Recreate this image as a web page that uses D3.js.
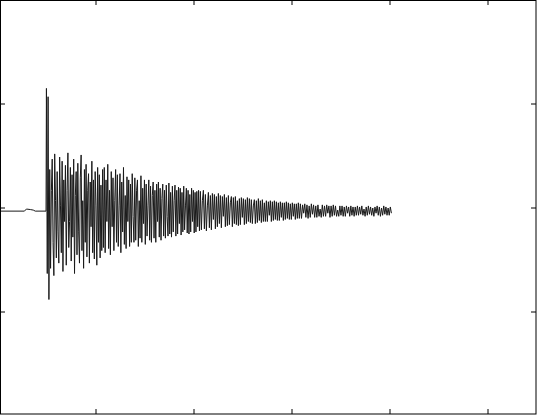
<!DOCTYPE html>
<html>
<head>
<meta charset="utf-8">
<script src="https://cdn.jsdelivr.net/npm/d3@7"></script>
<style>
  body { margin: 0; background: #fff; }
  svg { display: block; }
</style>
</head>
<body>
<svg id="chart" width="537" height="415"></svg>
<script>
// quiet part before the onset: [time, value]
const preEvent = [[0, -0.03], [0.27, -0.03], [0.29, -0.01], [0.33, -0.015], [0.36, -0.02], [0.38, -0.03], [0.49, -0.03]]

// oscillation
const seg1 = [1.18,-0.6,1.1,-0.85,0.4,-0.55,0.2,0.5,-0.3,-0.62,0.55,0.1,-0.45,0.38,-0.2,-0.5,0.52,0.05,-0.4,0.48,-0.58,0.3,-0.1,0.44,-0.52,0.2,0.56,-0.35,-0.1,0.42,-0.48,0.35,-0.25,0.5,-0.6,0.15,0.38,-0.42,0.46,-0.2,-0.5,0.32,0.54,-0.38,0.1,-0.55,0.4,-0.3,0.45,-0.44,0.2,0.36,-0.5,0.28,-0.15,0.48,-0.4,0.3,-0.46,0.38,0.05,-0.52,0.42,-0.3,0.35,-0.45,0.25,-0.38,0.4,-0.35]
const seg2 = [0.42,-0.4,0.3,-0.1,0.45,-0.36,0.2,-0.42,0.38,-0.15,0.32,-0.38,0.1,0.4,-0.3,0.35,-0.34,0.05,0.36,-0.4,0.28,-0.2,0.42,-0.32,0.15,-0.36,0.33,-0.1,0.3,-0.34,0.26,-0.3,0.36,-0.05,-0.3,0.32,-0.28,0.2,0.3,-0.34,0.1,-0.26,0.34,-0.3,0.22,-0.12,0.3,-0.32,0.26,-0.24,0.05,0.3,-0.28,0.24,-0.3,0.15,0.28,-0.26,0.2,-0.3,0.26,-0.1,0.28,-0.25,0.22,-0.28,0.12,0.26,-0.24,0.2,-0.26,0.25,-0.05,-0.24,0.27,-0.22,0.18,-0.25,0.24,-0.2,0.1,0.25,-0.24,0.2,-0.22,0.23,-0.12,0.22,-0.23,0.18,-0.2,0.24,-0.18,0.05,0.22,-0.21,0.2,-0.22,0.16,-0.2,0.22,-0.1,0.2,-0.21,0.18,-0.2,0.19,-0.15,0.2,-0.19]
const seg3 = [0.19,-0.18,0.1,0.2,-0.17,0.16,-0.19,0.05,0.18,-0.16,0.15,-0.18,0.17,-0.08,0.16,-0.17,0.14,-0.15,0.17,-0.12,0.15,-0.16,0.14,-0.05,0.16,-0.15,0.13,-0.14,0.15,-0.13,0.08,0.14,-0.15,0.13,-0.12,0.14,-0.13,0.1,-0.14,0.12,-0.13,0.13,-0.06,0.12,-0.13,0.11,-0.12,0.13,-0.1,0.12,-0.11,0.11,-0.12,0.05,0.11,-0.12,0.1,-0.11,0.12,-0.09,0.1,-0.11,0.11,-0.1,0.08,-0.1,0.1,-0.1,0.09,-0.04,0.1,-0.1,0.09,-0.09,0.1,-0.08,0.09,-0.09,0.08,-0.09,0.09,-0.06,0.08,-0.09,0.08,-0.08,0.09,-0.07,0.08,-0.08,0.07,-0.08,0.08,-0.05,0.07,-0.08,0.07,-0.07,0.08,-0.07]
const seg4 = [0.07,-0.07,0.06,-0.02,0.07,-0.06,0.06,-0.07,0.05,-0.06,0.07,-0.03,0.06,-0.06,0.05,-0.06,0.06,-0.05,0.02,-0.06,0.06,-0.05,0.05,-0.05,0.06,-0.02,0.05,-0.06,0.05,-0.05,0.06,-0.04,0.05,-0.05,0.01,-0.05,0.05,-0.04,0.05,-0.05,0.04,-0.05,0.05,-0.02,0.04,-0.05,0.05,-0.04,0.04,-0.05,0.04,-0.04,0.05,-0.04,0.04,-0.03,0.05,-0.04,0.02,-0.05,0.04,-0.04,0.05,-0.03,0.04,-0.04,0.03,-0.05,0.04,-0.02,0.05,-0.04,0.04,-0.05,0.03,-0.04,0.05,-0.03,0.04,-0.04,0.03,-0.04,0.04,-0.02]
// time span of each segment
const segTimes = [[0.49, 1.08], [1.08, 2.06], [2.06, 3.08], [3.08, 4.02]]
const offset = -0.03

const xTicks = [1, 2, 3, 4, 5]
const yTicks = [-1, 0, 1]

// -----------------------------------------------------------------------------

const svg = d3.select('#chart')
const x = d3.scaleLinear().domain([0, 5.5]).range([-2, 537])
const y = d3.scaleLinear().domain([-2, 2]).range([416, 0])

let points = preEvent.slice()
;[seg1, seg2, seg3, seg4].forEach((seg, i) => {
  const [t0, t1] = segTimes[i]
  seg.forEach((v, j) => points.push([t0 + (t1 - t0) * (j + 0.5) / seg.length, v + offset]))
})

svg.append('path')
  .datum(points)
  .attr('fill', 'none')
  .attr('stroke', '#1a1a1a')
  .attr('stroke-width', 1)
  .attr('d', d3.line().x(d => x(d[0])).y(d => y(d[1])))

// frame
svg.append('rect')
  .attr('x', 0.5).attr('y', 0.5).attr('width', 535.5).attr('height', 413.5)
  .attr('fill', 'none').attr('stroke', '#000')

// inward ticks, no labels
const tl = 5
xTicks.forEach(t => {
  svg.append('line').attr('x1', x(t)).attr('x2', x(t)).attr('y1', 0).attr('y2', tl).attr('stroke', '#000')
  svg.append('line').attr('x1', x(t)).attr('x2', x(t)).attr('y1', 414).attr('y2', 414 - tl).attr('stroke', '#000')
})
yTicks.forEach(t => {
  svg.append('line').attr('x1', 0).attr('x2', tl).attr('y1', y(t)).attr('y2', y(t)).attr('stroke', '#000')
  svg.append('line').attr('x1', 536).attr('x2', 536 - tl).attr('y1', y(t)).attr('y2', y(t)).attr('stroke', '#000')
})
</script>
</body>
</html>
